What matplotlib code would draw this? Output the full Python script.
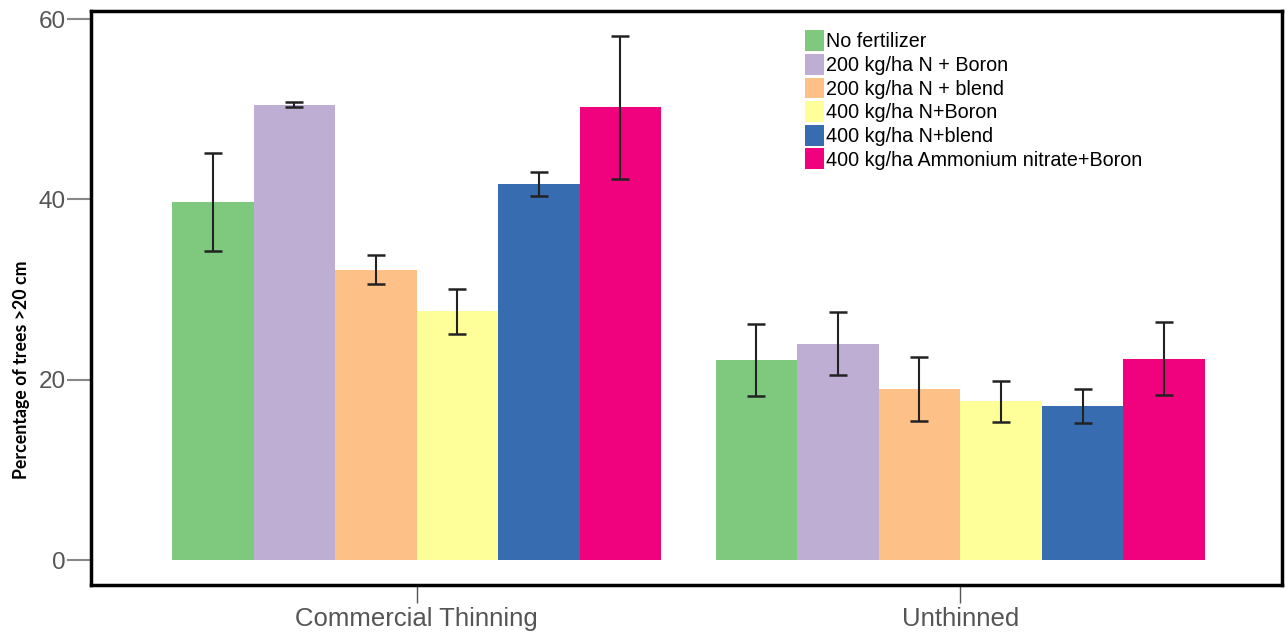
import matplotlib
matplotlib.use("Agg")
import matplotlib.pyplot as plt
import numpy as np

groups = ["Commercial Thinning", "Unthinned"]
treatments = ["No fertilizer", "200 kg/ha N + Boron", "200 kg/ha N + blend",
              "400 kg/ha N+Boron", "400 kg/ha N+blend",
              "400 kg/ha Ammonium nitrate+Boron"]
colors = ["#7fc97f", "#beaed4", "#fdc086", "#ffff99", "#386cb0", "#f0027f"]

thinning_vals = [39.7, 50.5, 32.2, 27.6, 41.7, 50.2]
thinning_err = [5.45, 0.3, 1.6, 2.5, 1.3, 7.9]
unthinned_vals = [22.2, 24.0, 19.0, 17.6, 17.1, 22.3]
unthinned_err = [4.0, 3.5, 3.55, 2.3, 1.9, 4.05]

yticks = [0, 20, 40, 60]

fig = plt.figure(figsize=(12.86, 6.41), dpi=100)
ax = fig.add_axes([91/1286, 56/641, (1282-91)/1286, (585-11)/641])

w = 0.15
x = np.arange(len(groups))
vals = np.array([thinning_vals, unthinned_vals])
errs = np.array([thinning_err, unthinned_err])
for i, (t, c) in enumerate(zip(treatments, colors)):
    pos = x + (i - 2.5) * w
    ax.bar(pos, vals[:, i], width=w, color=c, label=t, linewidth=0, zorder=2)
    ax.errorbar(pos, vals[:, i], yerr=errs[:, i], fmt="none", ecolor="#222222",
                elinewidth=1.5, capsize=6.5, capthick=1.8, zorder=3)

ax.set_xlim(-0.599, 1.592)
ax.set_ylim(-2.77, 60.9)
ax.set_yticks(yticks)
ax.set_yticklabels([str(v) for v in yticks], fontsize=17.5, color="#555555",
                   family="Liberation Sans")
ax.set_xticks(x)
ax.set_xticklabels(groups, fontsize=18.5, color="#555555", family="Liberation Sans")
ax.tick_params(axis="y", length=17, width=1.5, color="#888888", pad=1)
ax.tick_params(axis="x", length=13, width=1, color="#555555", pad=3)
for s in ax.spines.values():
    s.set_color("black")
    s.set_linewidth(2.5)

ax.set_ylabel("Percentage of trees >20 cm", fontsize=12.8, fontweight="bold",
              family="Lato")
ax.yaxis.set_label_coords(-0.051, 0.375)

leg = ax.legend(loc="upper left", bbox_to_anchor=(0.593, 0.98), frameon=False,
                prop={"family": "Liberation Sans", "size": 14.2},
                handlelength=0.95, handleheight=1.25, handletextpad=0.12,
                labelspacing=0.13, borderaxespad=0)

fig.savefig("out.png", dpi=100, facecolor="white")
